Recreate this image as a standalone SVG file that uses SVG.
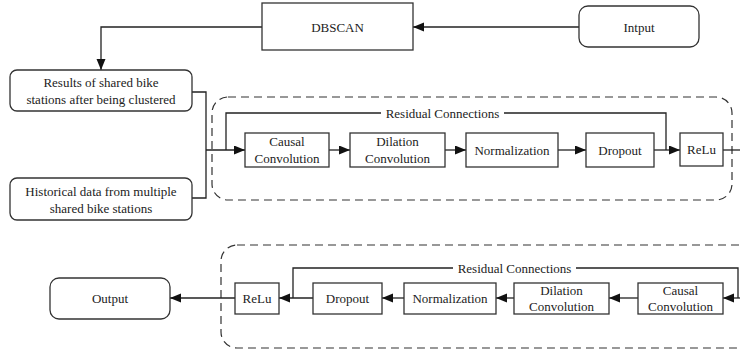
<svg xmlns="http://www.w3.org/2000/svg" width="740" height="356" viewBox="0 0 740 356">
<style>
.box{fill:#fff;stroke:#333;stroke-width:1.3}
.grp{fill:none;stroke:#333;stroke-width:1.2;stroke-dasharray:8 5}
.ln{fill:none;stroke:#222;stroke-width:1.3}
.arr{marker-end:url(#ah)}
text{font-family:"Liberation Serif","Times New Roman",serif;font-size:13px;fill:#222;text-anchor:middle}
</style>
<defs>
<marker id="ah" markerUnits="userSpaceOnUse" markerWidth="11" markerHeight="10" refX="11" refY="4.5" orient="auto">
<path d="M0,0 L11,4.5 L0,9 z" fill="#111"/>
</marker>
</defs>
<rect width="740" height="356" fill="#fff"/>
<g id="groups">
<rect class="grp" x="212" y="97" width="520" height="103" rx="16"/>
<rect class="grp" x="221" y="245" width="540" height="103" rx="16"/>
</g>
<g id="connectors">
<path class="ln arr" d="M579,27 H413"/>
<path class="ln arr" d="M262,27 H101 V70"/>
<path class="ln" d="M192,92 H206 V198 H192"/>
<path class="ln arr" d="M206,150 H245"/>
<path class="ln" d="M226,150 V113 H381"/>
<path class="ln" d="M504,113 H666 V150"/>
<text x="442.5" y="117.5">Residual Connections</text>
<path class="ln arr" d="M329,150 H350"/>
<path class="ln arr" d="M445,150 H466"/>
<path class="ln arr" d="M558,150 H586"/>
<path class="ln arr" d="M654,150 H680"/>
<path class="ln" d="M723,150 H740"/>
<path class="ln arr" d="M740,298 H723"/>
<path class="ln" d="M738,298 V268 H576"/>
<path class="ln" d="M453,268 H293 V298"/>
<text x="514.5" y="272.5">Residual Connections</text>
<path class="ln arr" d="M638,298 H609"/>
<path class="ln arr" d="M514,298 H496"/>
<path class="ln arr" d="M404,298 H382"/>
<path class="ln arr" d="M313,298 H279"/>
<path class="ln arr" d="M235,298 H170"/>
</g>
<g id="dbscan"><rect class="box" x="262" y="3" width="151" height="47"/><text x="337.5" y="31.5">DBSCAN</text></g>
<g id="input"><rect class="box" x="579" y="6" width="120" height="41" rx="9"/><text x="639" y="31.5">Intput</text></g>
<g id="results"><rect class="box" x="10" y="70" width="182" height="41" rx="7"/><text x="101" y="87">Results of shared bike</text><text x="101" y="104">stations after being clustered</text></g>
<g id="historical"><rect class="box" x="10" y="178" width="182" height="42" rx="7"/><text x="101" y="196">Historical data from multiple</text><text x="101" y="213">shared bike stations</text></g>
<g id="causal1"><rect class="box" x="245" y="133" width="84" height="34"/><text x="287" y="146">Causal</text><text x="287" y="163">Convolution</text></g>
<g id="dilation1"><rect class="box" x="350" y="133" width="95" height="34"/><text x="397.5" y="146">Dilation</text><text x="397.5" y="163">Convolution</text></g>
<g id="norm1"><rect class="box" x="466" y="133" width="92" height="34"/><text x="512" y="154.5">Normalization</text></g>
<g id="dropout1"><rect class="box" x="586" y="133" width="68" height="34"/><text x="620" y="154.5">Dropout</text></g>
<g id="relu1"><rect class="box" x="680" y="133" width="43" height="33"/><text x="701.5" y="154">ReLu</text></g>
<g id="causal2"><rect class="box" x="638" y="283" width="85" height="31"/><text x="680.5" y="295">Causal</text><text x="680.5" y="311">Convolution</text></g>
<g id="dilation2"><rect class="box" x="514" y="283" width="95" height="31"/><text x="561.5" y="295">Dilation</text><text x="561.5" y="311">Convolution</text></g>
<g id="norm2"><rect class="box" x="404" y="283" width="92" height="31"/><text x="450" y="303">Normalization</text></g>
<g id="dropout2"><rect class="box" x="313" y="283" width="69" height="31"/><text x="347.5" y="303">Dropout</text></g>
<g id="relu2"><rect class="box" x="235" y="283" width="44" height="31"/><text x="257" y="303">ReLu</text></g>
<g id="output"><rect class="box" x="50" y="278" width="120" height="41" rx="9"/><text x="110" y="303">Output</text></g>
</svg>
